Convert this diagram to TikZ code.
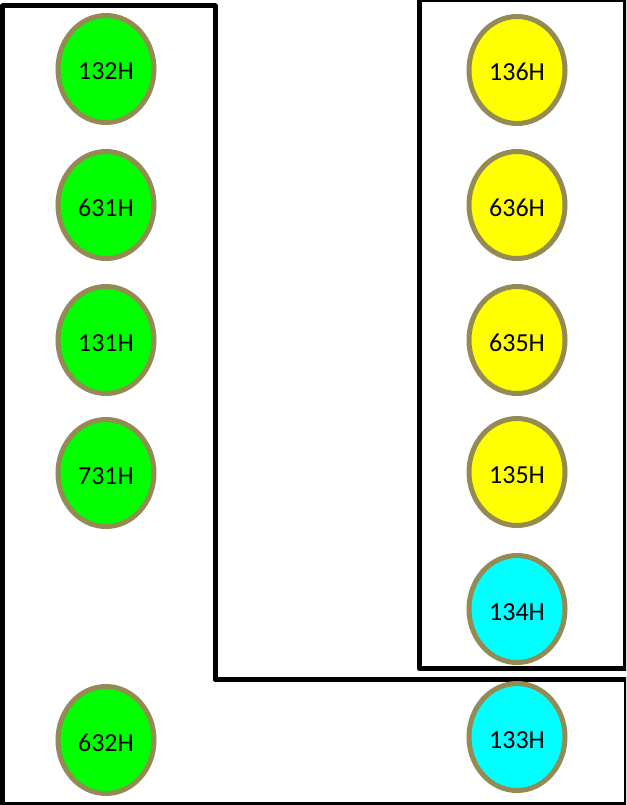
\documentclass[tikz,border=0pt]{standalone}
\usepackage{fontspec}
\setmainfont{Carlito}
\usetikzlibrary{shapes}

\definecolor{rim}{HTML}{948A54}
\tikzset{
  reg/.style={ellipse, draw=rim, line width=5pt, minimum width=96pt, minimum height=107pt, inner sep=0pt,
    text height=22pt, text depth=0pt, font=\fontsize{26}{26}\selectfont},
  grn/.style={reg, fill={rgb,255:red,0;green,255;blue,0}},
  ylw/.style={reg, fill={rgb,255:red,255;green,255;blue,0}},
  cyn/.style={reg, fill={rgb,255:red,0;green,255;blue,255}},
  wall/.style={line width=5pt, line join=round}
}

\begin{document}
\begin{tikzpicture}[x=1pt,y=-1pt]
\useasboundingbox[fill=white] (0,0) rectangle (626,805);
\clip (0,0) rectangle (626,805);

% groups
\draw[wall] (2.5,6) -- (215,6) -- (215,679.5) -- (626.5,679.5) -- (626.5,804.5) -- (2.5,804.5) -- cycle;
\draw[wall] (419.5,0) rectangle (625.5,668.5);

% left column
\node[grn] (g132) at (106,69) {132H};
\node[grn] (g631) at (106,205) {631H};
\node[grn] (g131) at (106,340) {131H};
\node[grn] (g731) at (106,473) {731H};
\node[grn] (g632) at (106,740) {632H};

% right column
\node[ylw] (y136) at (517,70) {136H};
\node[ylw] (y636) at (517,205) {636H};
\node[ylw] (y635) at (517,340) {635H};
\node[ylw] (y135) at (517,472) {135H};
\node[cyn] (c134) at (517,609) {134H};
\node[cyn] (c133) at (517,737) {133H};
\end{tikzpicture}
\end{document}
